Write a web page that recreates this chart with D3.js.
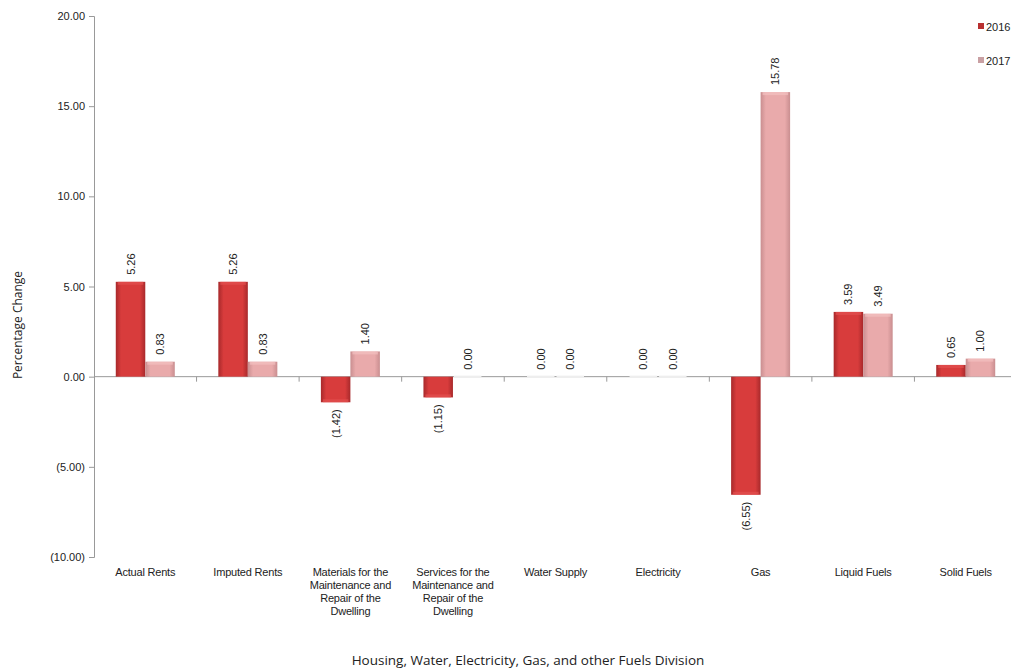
<!DOCTYPE html>
<html><head><meta charset="utf-8">
<script src="https://cdn.jsdelivr.net/npm/d3@7"></script>
<style>body{margin:0;background:#fff;} svg{display:block;}</style>
</head><body>
<svg id="chart" width="1011" height="671"></svg>
<script>
const categories = ["Actual Rents","Imputed Rents","Materials for the Maintenance and Repair of the Dwelling","Services for the Maintenance and Repair of the Dwelling","Water Supply","Electricity","Gas","Liquid Fuels","Solid Fuels"];
const categoryLines = [["Actual Rents"],["Imputed Rents"],["Materials for the","Maintenance and","Repair of the","Dwelling"],["Services for the","Maintenance and","Repair of the","Dwelling"],["Water Supply"],["Electricity"],["Gas"],["Liquid Fuels"],["Solid Fuels"]];
const seriesNames = ["2016","2017"];
const values2016 = [5.26,5.26,-1.42,-1.15,0.00,0.00,-6.55,3.59,0.65];
const values2017 = [0.83,0.83,1.40,0.00,0.00,0.00,15.78,3.49,1.00];
const yTicks = [-10,-5,0,5,10,15,20];
const xTitle = "Housing, Water, Electricity, Gas, and other Fuels Division";
const yTitle = "Percentage Change";

(function(){
const svg = d3.select("#chart");
const pl = 94, pr = 1017, pt = 16, pb = 557;
const x = d3.scaleBand().domain(categories).range([pl, pr]);
const y = d3.scaleLinear().domain([-10, 20]).range([pb, pt]);
const barW = 29.5;

const defs = svg.append("defs");
function grad(id, edge, mid) {
  const g = defs.append("linearGradient").attr("id", id).attr("x1","0%").attr("x2","100%");
  g.append("stop").attr("offset","0%").attr("stop-color", edge);
  g.append("stop").attr("offset","18%").attr("stop-color", mid);
  g.append("stop").attr("offset","82%").attr("stop-color", mid);
  g.append("stop").attr("offset","100%").attr("stop-color", edge);
}
grad("g2016", "#a8292b", "#d83c3c");
grad("g2017", "#c98e90", "#e9aaab");
const fmt = v => v < 0 ? "(" + d3.format(".2f")(-v) + ")" : d3.format(".2f")(v);

const yAxis = d3.axisLeft(y).tickValues(yTicks).tickSize(5).tickFormat(fmt);
const ya = svg.append("g").attr("transform", `translate(${pl},0)`).call(yAxis);
ya.select(".domain").attr("stroke", "#999");
ya.selectAll(".tick line").attr("stroke", "#999");
ya.selectAll(".tick text").attr("font-family", "Liberation Sans, Arial, sans-serif").attr("font-size", 11).attr("fill", "#222").attr("x", -9);

svg.append("line").attr("x1", pl).attr("x2", 1011).attr("y1", y(0)).attr("y2", y(0)).attr("stroke", "#999");
svg.selectAll(".ctick").data(categories.slice(1)).enter().append("line")
  .attr("x1", d => x(d)).attr("x2", d => x(d)).attr("y1", y(0)).attr("y2", y(0) + 5).attr("stroke", "#999");

const series = [values2016, values2017];
series.forEach((vals, si) => {
  const g = svg.append("g");
  categories.forEach((c, i) => {
    const v = vals[i];
    const cx = x(c) + x.bandwidth() / 2;
    const bx = si === 0 ? cx - barW : cx;
    const y0 = y(Math.max(0, v)), y1 = y(Math.min(0, v));
    if (v !== 0) {
      g.append("rect").attr("x", bx).attr("y", y0).attr("width", barW).attr("height", Math.max(0.5, y1 - y0))
        .attr("fill", `url(#g${seriesNames[si]})`);
      g.append("rect").attr("x", bx + 2).attr("y", v > 0 ? y0 : y1 - 3).attr("width", barW - 4).attr("height", 3)
        .attr("fill", si === 0 ? "#e35050" : "#f2c0c0").attr("opacity", 0.7);
    } else {
      g.append("rect").attr("x", bx + 1).attr("y", y(0) - 1).attr("width", barW - 2).attr("height", 2).attr("fill", "#eee");
    }
    const lx = bx + barW / 2 + 4;
    const ly = v >= 0 ? y0 - 7 : y1 + 7;
    g.append("text").attr("transform", `translate(${lx},${ly}) rotate(-90)`)
      .attr("text-anchor", v >= 0 ? "start" : "end")
      .attr("font-family", "Liberation Sans, Arial, sans-serif").attr("font-size", 11).attr("fill", "#222")
      .text(fmt(v));
  });
});

categories.forEach((c, i) => {
  const t = svg.append("text").attr("text-anchor", "middle").attr("font-family", "Liberation Sans, Arial, sans-serif")
    .attr("font-size", 11).attr("fill", "#222").attr("letter-spacing", "-0.2");
  categoryLines[i].forEach((ln, k) => {
    t.append("tspan").attr("x", x(c) + x.bandwidth() / 2).attr("y", 576 + k * 13).text(ln);
  });
});

svg.append("text").attr("x", 528).attr("y", 665).attr("text-anchor", "middle")
  .attr("font-family", "Open Sans, sans-serif").attr("font-size", 13.5).attr("fill", "#222").text(xTitle);
svg.append("text").attr("transform", `translate(22,${325}) rotate(-90)`).attr("text-anchor", "middle")
  .attr("font-family", "Open Sans, sans-serif").attr("font-size", 12).attr("fill", "#222").text(yTitle);

const legColors = ["#b83030", "#c9a0a3"];
seriesNames.forEach((s, i) => {
  const ly = 27 + i * 34;
  svg.append("rect").attr("x", 978).attr("y", ly - 4).attr("width", 6).attr("height", 6).attr("fill", legColors[i]);
  svg.append("text").attr("x", 986).attr("y", ly + 4).attr("font-family", "Liberation Sans, Arial, sans-serif")
    .attr("font-size", 11).attr("fill", "#222").text(s);
});
})();
</script>
</body></html>
